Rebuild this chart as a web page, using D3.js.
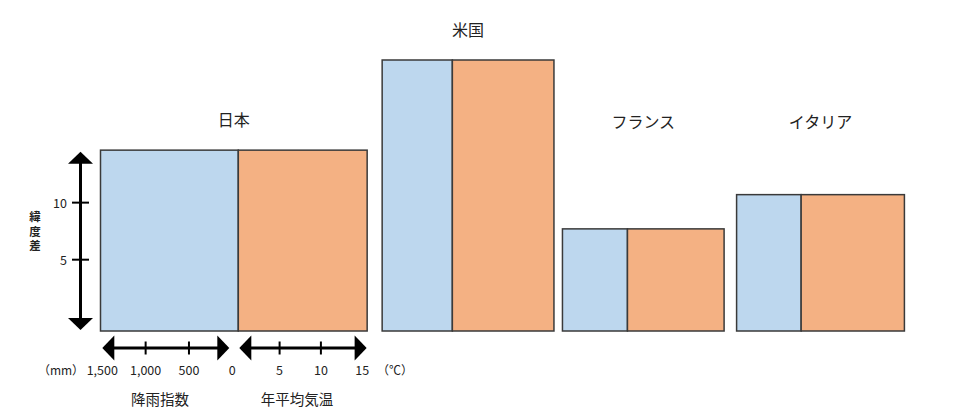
<!DOCTYPE html>
<html><head><meta charset="utf-8">
<script src="https://cdn.jsdelivr.net/npm/d3@7"></script>
<style>
html,body{margin:0;padding:0;background:#fff;}
svg{display:block;font-family:"Noto Sans CJK JP","Noto Sans",sans-serif;}
</style></head>
<body><svg id="c" width="969" height="413"></svg>
<script>
const countries = ["日本", "米国", "フランス", "イタリア"];
const latDiff = [14.6, 22.5, 7.7, 10.7];          // 緯度差
const rainIndex = [1590, 810, 750, 745];          // 降雨指数 (mm)
const meanTemp = [15.6, 12.3, 11.7, 12.5];        // 年平均気温 (℃)
const latTicks = [5, 10];
const rainTicks = [500, 1000];
const rainTickLabels = [0, 500, 1000, 1500];
const tempTicks = [5, 10];
const tempTickLabels = [5, 10, 15];

const svg = d3.select("#c");
const blue = "#BDD7EE", orange = "#F4B183", edge = "#3a3a3a", ink = "#222";

const y = d3.scaleLinear().domain([-1.25, 22.5]).range([331, 60]);
const rainW = d3.scaleLinear().domain([0, 1500]).range([0, 130]);
const tempW = d3.scaleLinear().domain([0, 15]).range([0, 123.9]);

// layout: left start and spacing after each group
const left0 = 100.5, gaps = [15, 8.5, 12.5, 0];
const groups = [];
let cx = left0;
countries.forEach((c, i) => {
  const bw = rainW(rainIndex[i]), ow = tempW(meanTemp[i]);
  groups.push({name: c, lat: latDiff[i], x: cx, bw, ow});
  cx += bw + ow + gaps[i];
});

const g = svg.append("g");
groups.forEach(d => {
  g.append("rect").attr("x", d.x).attr("y", y(d.lat)).attr("width", d.bw)
    .attr("height", y(-1.25) - y(d.lat)).attr("fill", blue).attr("stroke", edge).attr("stroke-width", 1.5);
  g.append("rect").attr("x", d.x + d.bw).attr("y", y(d.lat)).attr("width", d.ow)
    .attr("height", y(-1.25) - y(d.lat)).attr("fill", orange).attr("stroke", edge).attr("stroke-width", 1.5);
  g.append("text").attr("x", d.x + (d.bw + d.ow) / 2)
    .attr("y", Math.min(y(d.lat) - 31, 121))
    .attr("text-anchor", "middle").attr("dominant-baseline", "central")
    .attr("font-size", 16).attr("fill", ink).text(d.name);
});

function arrowLine(x1, y1, x2, y2) {
  const a = svg.append("g");
  const horiz = y1 === y2;
  const L = 12, W = 12.5;
  if (horiz) {
    a.append("line").attr("x1", x1 + L - 1).attr("x2", x2 - L + 1).attr("y1", y1).attr("y2", y1)
      .attr("stroke", "#000").attr("stroke-width", 3);
    a.append("path").attr("d", `M${x1},${y1}L${x1 + L},${y1 - W}L${x1 + L},${y1 + W}Z`).attr("fill", "#000");
    a.append("path").attr("d", `M${x2},${y2}L${x2 - L},${y2 - W}L${x2 - L},${y2 + W}Z`).attr("fill", "#000");
  } else {
    a.append("line").attr("x1", x1).attr("x2", x1).attr("y1", y1 + L - 1).attr("y2", y2 - L + 1)
      .attr("stroke", "#000").attr("stroke-width", 3);
    a.append("path").attr("d", `M${x1},${y1}L${x1 - W},${y1 + L}L${x1 + W},${y1 + L}Z`).attr("fill", "#000");
    a.append("path").attr("d", `M${x2},${y2}L${x2 - W},${y2 - L}L${x2 + W},${y2 - L}Z`).attr("fill", "#000");
  }
  return a;
}

// Y axis (緯度差) spanning Japan's bar
const J = groups[0];
const axX = 80.5;
arrowLine(axX, y(J.lat) + 1.5, axX, y(-1.25) - 1);
latTicks.forEach(t => {
  svg.append("line").attr("x1", axX - 8.5).attr("x2", axX + 8.5).attr("y1", y(t)).attr("y2", y(t))
    .attr("stroke", "#000").attr("stroke-width", 2);
  svg.append("text").attr("x", 67).attr("y", y(t)).attr("text-anchor", "end")
    .attr("dominant-baseline", "central").attr("font-size", 12.5).attr("fill", ink).text(t);
});
["緯", "度", "差"].forEach((ch, i) => {
  svg.append("text").attr("x", 35).attr("y", 216 + i * 14.6).attr("text-anchor", "middle")
    .attr("dominant-baseline", "central").attr("font-size", 11.5).attr("font-weight", "bold")
    .attr("fill", ink).text(ch);
});

// bottom axes
const axY = 348;
const junction = J.x + J.bw;
const rainAxis = d3.scaleLinear().domain([0, 1500]).range([junction - 6, junction - 6 - 130]);
const tempAxis = d3.scaleLinear().domain([0, 15]).range([junction, junction + tempW(15)]);

arrowLine(rainAxis(1500), axY, rainAxis(0) - 3, axY);
rainTicks.forEach(t => {
  svg.append("line").attr("x1", rainAxis(t)).attr("x2", rainAxis(t)).attr("y1", axY - 6.5).attr("y2", axY + 6.5)
    .attr("stroke", "#000").attr("stroke-width", 2);
});
const fmt = d3.format(",");
rainTickLabels.forEach(t => {
  svg.append("text").attr("x", rainAxis(t)).attr("y", 369).attr("text-anchor", "middle")
    .attr("dominant-baseline", "central").attr("font-size", 12.5).attr("fill", ink).text(fmt(t));
});

arrowLine(junction + 1, axY, J.x + J.bw + J.ow - 0.5, axY);
tempTicks.forEach(t => {
  svg.append("line").attr("x1", tempAxis(t)).attr("x2", tempAxis(t)).attr("y1", axY - 6.5).attr("y2", axY + 6.5)
    .attr("stroke", "#000").attr("stroke-width", 2);
});
tempTickLabels.forEach(t => {
  svg.append("text").attr("x", tempAxis(t)).attr("y", 369).attr("text-anchor", "middle")
    .attr("dominant-baseline", "central").attr("font-size", 12.5).attr("fill", ink).text(t);
});

svg.append("text").attr("x", 61).attr("y", 369).attr("text-anchor", "middle")
  .attr("dominant-baseline", "central").attr("font-size", 12).attr("fill", ink).text("（mm）");
svg.append("text").attr("x", 395).attr("y", 369).attr("text-anchor", "middle")
  .attr("dominant-baseline", "central").attr("font-size", 12).attr("fill", ink).text("（℃）");
svg.append("text").attr("x", 160).attr("y", 398).attr("text-anchor", "middle")
  .attr("dominant-baseline", "central").attr("font-size", 14.5).attr("fill", ink).text("降雨指数");
svg.append("text").attr("x", 297).attr("y", 398).attr("text-anchor", "middle")
  .attr("dominant-baseline", "central").attr("font-size", 14.5).attr("fill", ink).text("年平均気温");
</script></body></html>
